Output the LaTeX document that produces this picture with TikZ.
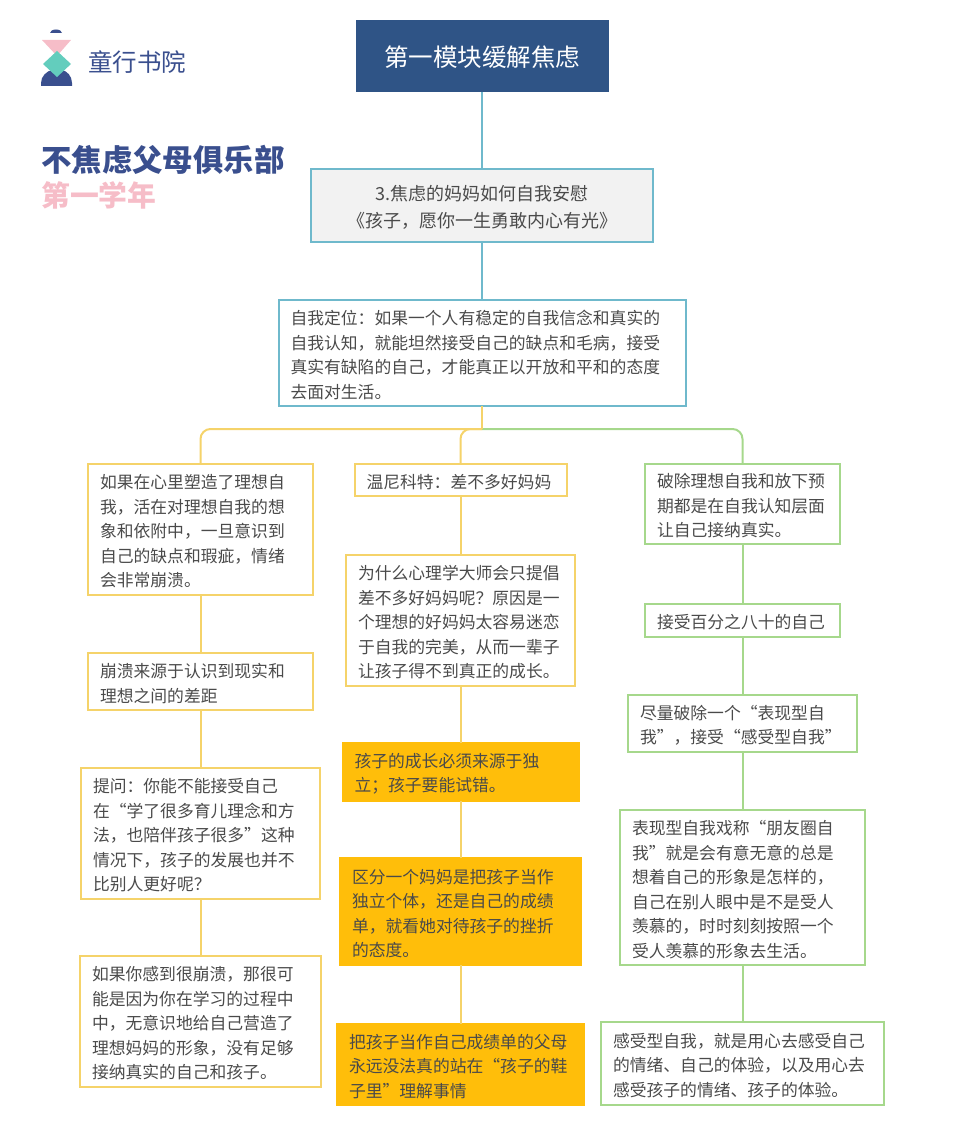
\documentclass[tikz,border=0pt]{standalone}
\usepackage{xcolor}
\usepackage{fontspec}
\setmainfont{Noto Sans CJK SC}
\usetikzlibrary{positioning}
\definecolor{navy}{HTML}{2F5486}
\definecolor{logoblue}{HTML}{3A4F8E}
\definecolor{logopink}{HTML}{F6BDC8}
\definecolor{logoteal}{HTML}{63CDBD}
\definecolor{tealline}{HTML}{6FB9CC}
\definecolor{yellowline}{HTML}{F5D36A}
\definecolor{greenline}{HTML}{A6D88C}
\definecolor{gold}{HTML}{FFBE0A}
\definecolor{bodytext}{HTML}{4A4A4A}

\begin{document}
\begin{tikzpicture}[x=1pt, y=-1pt]
    \tikzstyle{textbox} = [rectangle, draw, line width=2pt, text=bodytext, align=left, inner xsep=12pt, inner ysep=0pt, outer sep=0pt, font=\fontsize{16.8}{24.5}\selectfont, execute at begin node={\rule{0pt}{18pt}}]
    \tikzstyle{tealbox} = [textbox, draw=tealline]
    \tikzstyle{yellowbox} = [textbox, draw=yellowline]
    \tikzstyle{greenbox} = [textbox, draw=greenline]
    \tikzstyle{goldbox} = [textbox, draw=gold, fill=gold]
    \tikzstyle{branch} = [line width=2pt, rounded corners=10pt]

    \useasboundingbox (0,0) rectangle (960,1129);

    % Logo
    \fill[logoblue] (50,33) arc (180:360:6 and 3.5) -- cycle;
    \fill[logopink] (42,40) -- (71,40) -- (57,56) -- cycle;
    \fill[logoblue] (41,86) -- (41,83) .. controls (41,76) and (47,71) .. (52,70) -- (62,70) .. controls (67,71) and (72,76) .. (72,83) -- (72,86) -- cycle;
    \fill[logoteal] (57,51) -- (71,64) -- (57,77) -- (43,64) -- cycle;
    \node[text=logoblue, font=\fontsize{24.5}{28}\selectfont, inner sep=0pt, anchor=west] (brand) at (88,62) {童行书院};

    % Heading
    \node[text=logoblue, font=\fontsize{30.4}{34}\selectfont\bfseries, inner sep=0pt, anchor=west] (club) at (41,160) {不焦虑父母俱乐部};
    \node[text=logopink, font=\fontsize{28.8}{32}\selectfont\bfseries, inner sep=0pt, anchor=west] (year) at (41,195) {第一学年};

    % Top
    \node[rectangle, fill=navy, text=white, font=\fontsize{24.5}{28}\selectfont, text depth=0pt, minimum width=253pt, minimum height=72pt, outer sep=0pt] (module) at (482,56) {第一模块缓解焦虑};
    \node[tealbox, fill=black!5, align=center, font=\fontsize{18}{27}\selectfont, text width=318pt, minimum height=73pt, below=77pt of module] (lesson) {3.焦虑的妈妈如何自我安慰\\《孩子，愿你一生勇敢内心有光》};
    \node[tealbox, text width=383pt, minimum height=106pt, below=58pt of lesson] (selfpos) {自我定位：如果一个人有稳定的自我信念和真实的\\自我认知，就能坦然接受自己的缺点和毛病，接受\\真实有缺陷的自己，才能真正以开放和平和的态度\\去面对生活。};
    \coordinate[below=23pt of selfpos] (fork);

    % Left
    \node[yellowbox, text width=201pt, minimum height=131pt] (leftA) at (200.5,529.5) {如果在心里塑造了理想自\\我，活在对理想自我的想\\象和依附中，一旦意识到\\自己的缺点和瑕疵，情绪\\会非常崩溃。};
    \node[yellowbox, text width=201pt, minimum height=57pt, below=58pt of leftA] (leftB) {崩溃来源于认识到现实和\\理想之间的差距};
    \node[yellowbox, text width=215pt, minimum height=131pt, below=58pt of leftB] (leftC) {提问：你能不能接受自己\\在“学了很多育儿理念和方\\法，也陪伴孩子很多”这种\\情况下，孩子的发展也并不\\比别人更好呢？};
    \node[yellowbox, text width=217pt, minimum height=131pt, below=57pt of leftC] (leftD) {如果你感到很崩溃，那很可\\能是因为你在学习的过程中\\中，无意识地给自己营造了\\理想妈妈的形象，没有足够\\接纳真实的自己和孩子。};

    % Middle
    \node[yellowbox, text width=188pt, minimum height=32pt] (midA) at (460.5,480) {温尼科特：差不多好妈妈};
    \node[yellowbox, text width=205pt, minimum height=131pt, below=59pt of midA] (midB) {为什么心理学大师会只提倡\\差不多好妈妈呢？原因是一\\个理想的好妈妈太容易迷恋\\于自我的完美，从而一辈子\\让孩子得不到真正的成长。};
    \node[goldbox, text width=212pt, minimum height=58pt, below=57pt of midB] (midC) {孩子的成长必须来源于独\\立；孩子要能试错。};
    \node[goldbox, text width=217pt, minimum height=107pt, below=57pt of midC] (midD) {区分一个妈妈是把孩子当作\\独立个体，还是自己的成绩\\单，就看她对待孩子的挫折\\的态度。};
    \node[goldbox, text width=223pt, minimum height=81pt, below=59pt of midD] (midE) {把孩子当作自己成绩单的父母\\永远没法真的站在“孩子的鞋\\子里”理解事情};

    % Right
    \node[greenbox, text width=171pt, minimum height=80pt] (rightA) at (742.5,504) {破除理想自我和放下预\\期都是在自我认知层面\\让自己接纳真实。};
    \node[greenbox, text width=171pt, minimum height=33pt, below=60pt of rightA] (rightB) {接受百分之八十的自己};
    \node[greenbox, text width=205pt, minimum height=57pt, below=58pt of rightB] (rightC) {尽量破除一个“表现型自\\我”，接受“感受型自我”};
    \node[greenbox, text width=221pt, minimum height=155pt, below=58pt of rightC] (rightD) {表现型自我戏称“朋友圈自\\我”就是会有意无意的总是\\想着自己的形象是怎样的，\\自己在别人眼中是不是受人\\羡慕的，时时刻刻按照一个\\受人羡慕的形象去生活。};
    \node[greenbox, text width=259pt, minimum height=83pt, below=57pt of rightD] (rightE) {感受型自我，就是用心去感受自己\\的情绪、自己的体验，以及用心去\\感受孩子的情绪、孩子的体验。};

    % Connections
    \draw[tealline, line width=2pt] (module) -- (lesson);
    \draw[tealline, line width=2pt] (lesson) -- (selfpos);
    \draw[greenline, branch] (fork) -| (rightA.north);
    \draw[yellowline, line width=2pt] (selfpos.south) -- (fork);
    \draw[yellowline, branch] (fork) -| (leftA.north);
    \draw[yellowline, branch] (fork) -| (midA.north);
    \draw[yellowline, line width=2pt] (leftA) -- (leftB);
    \draw[yellowline, line width=2pt] (leftB) -- (leftC);
    \draw[yellowline, line width=2pt] (leftC) -- (leftD);
    \draw[yellowline, line width=2pt] (midA) -- (midB);
    \draw[yellowline, line width=2pt] (midB) -- (midC);
    \draw[yellowline, line width=2pt] (midC) -- (midD);
    \draw[yellowline, line width=2pt] (midD) -- (midE);
    \draw[greenline, line width=2pt] (rightA) -- (rightB);
    \draw[greenline, line width=2pt] (rightB) -- (rightC);
    \draw[greenline, line width=2pt] (rightC) -- (rightD);
    \draw[greenline, line width=2pt] (rightD) -- (rightE);
\end{tikzpicture}
\end{document}
